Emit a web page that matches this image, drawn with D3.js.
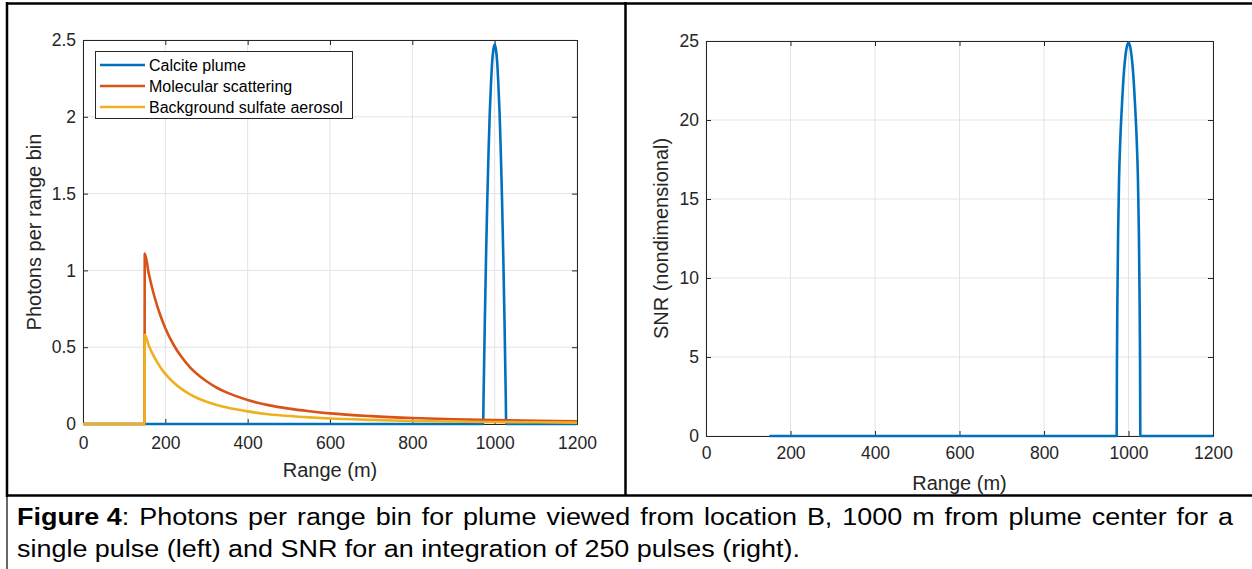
<!DOCTYPE html>
<html><head><meta charset="utf-8">
<script src="https://cdn.jsdelivr.net/npm/d3@7"></script>
<style>body{margin:0;background:#fff}</style></head>
<body>
<svg id="c" width="1252" height="569"></svg>
<script>
// ---------- data ----------
const rangeTicks = [0, 200, 400, 600, 800, 1000, 1200];
const photonTicks = [0, 0.5, 1, 1.5, 2, 2.5];
const snrTicks = [0, 5, 10, 15, 20, 25];
const seriesNames = ["Calcite plume", "Molecular scattering", "Background sulfate aerosol"];

const plumeRange   = [0, 150, 972, 973, 976, 979, 982, 985, 988, 991, 994, 997, 1000, 1003, 1006, 1009, 1012, 1015, 1018, 1021, 1024, 1027, 1028, 1200];
const plumePhotons = [0, 0, 0, 0.17, 0.655, 1.08, 1.45, 1.76, 2.02, 2.21, 2.36, 2.44, 2.47, 2.44, 2.36, 2.21, 2.02, 1.76, 1.45, 1.08, 0.655, 0.17, 0, 0];

const bgRange     = [0, 149.5, 150, 160, 170, 180, 190, 200, 220, 240, 260, 280, 300, 325, 350, 400, 450, 500, 550, 600, 700, 800, 900, 1000, 1100, 1200];
const molPhotons  = [0, 0, 1.11, 0.976, 0.864, 0.771, 0.692, 0.624, 0.516, 0.434, 0.369, 0.319, 0.278, 0.236, 0.204, 0.156, 0.123, 0.100, 0.083, 0.069, 0.051, 0.039, 0.031, 0.025, 0.021, 0.017];
const sulPhotons  = [0, 0, 0.58, 0.510, 0.452, 0.403, 0.362, 0.326, 0.270, 0.227, 0.193, 0.166, 0.145, 0.124, 0.107, 0.082, 0.064, 0.052, 0.043, 0.036, 0.027, 0.020, 0.016, 0.013, 0.011, 0.009];

const snrRange = [150, 972, 972.6, 973.7, 975.4, 977.6, 980.4, 984.6, 988.8, 994.4, 1000, 1005.6, 1011.2, 1015.4, 1019.6, 1022.4, 1024.6, 1026.3, 1027.4, 1028, 1200];
const snrValue = [0, 0, 4.5, 8.5, 12.8, 16.2, 18.6, 21.0, 22.9, 24.4, 24.9, 24.4, 22.9, 21.0, 18.6, 16.2, 12.8, 8.5, 4.5, 0, 0];

const captionBold = "Figure 4";
const captionLine1 = ": Photons per range bin for plume viewed from location B, 1000 m from plume center for a";
const captionLine2 = "single pulse (left) and SNR for an integration of 250 pulses (right).";

// ---------- styling ----------
const colors = ["#0072BD", "#D95319", "#EDB120"];
const axisColor = "#262626";
const gridColor = "#e3e3e3";
const font = "'Liberation Sans', Arial, sans-serif";

const svg = d3.select("#c");
svg.append("rect").attr("width", 1252).attr("height", 569).attr("fill", "#fff");

function panel(cfg) {
  const x = d3.scaleLinear().domain([0, 1200]).range([cfg.x0, cfg.x1]);
  const y = d3.scaleLinear().domain(cfg.yDomain).range([cfg.y1, cfg.y0]);
  const g = svg.append("g");
  g.selectAll(".gx").data(rangeTicks).enter().append("line")
    .attr("x1", d => x(d)).attr("x2", d => x(d)).attr("y1", cfg.y0).attr("y2", cfg.y1)
    .attr("stroke", gridColor).attr("stroke-width", 1);
  g.selectAll(".gy").data(cfg.yTicks).enter().append("line")
    .attr("y1", d => y(d)).attr("y2", d => y(d)).attr("x1", cfg.x0).attr("x2", cfg.x1)
    .attr("stroke", gridColor).attr("stroke-width", 1);
  const fmt = d => String(d);
  const ax = g.append("g").attr("transform", `translate(0,${cfg.y1})`)
    .call(d3.axisBottom(x).tickValues(rangeTicks).tickSize(-5).tickPadding(cfg.xPad).tickFormat(fmt));
  const axT = g.append("g").attr("transform", `translate(0,${cfg.y0})`)
    .call(d3.axisTop(x).tickValues(rangeTicks).tickSize(-5).tickFormat(""));
  const ay = g.append("g").attr("transform", `translate(${cfg.x0},0)`)
    .call(d3.axisLeft(y).tickValues(cfg.yTicks).tickSize(-5).tickPadding(7).tickFormat(fmt));
  const ayR = g.append("g").attr("transform", `translate(${cfg.x1},0)`)
    .call(d3.axisRight(y).tickValues(cfg.yTicks).tickSize(-5).tickFormat(""));
  [ax, axT, ay, ayR].forEach(a => {
    a.select(".domain").attr("stroke", axisColor).attr("stroke-width", 1);
    a.selectAll(".tick line").attr("stroke", axisColor);
    a.selectAll("text").attr("fill", axisColor).style("font-family", font).style("font-size", "17.5px");
  });
  const line = d3.line().x(d => x(d[0])).y(d => y(d[1])).curve(d3.curveMonotoneX);
  cfg.series.forEach(s => {
    g.append("path").datum(s.xs.map((v, i) => [v, s.ys[i]]))
      .attr("d", line).attr("fill", "none").attr("stroke", s.color)
      .attr("stroke-width", 2.6).attr("stroke-linejoin", "round");
  });
  g.append("text").attr("x", (cfg.x0 + cfg.x1) / 2).attr("y", cfg.xLabelY)
    .attr("text-anchor", "middle").attr("fill", axisColor)
    .style("font-family", font).style("font-size", "20px").text("Range (m)");
  g.append("text").attr("transform", `translate(${cfg.yLabelX},${(cfg.y0 + cfg.y1) / 2}) rotate(-90)`)
    .attr("text-anchor", "middle").attr("fill", axisColor)
    .style("font-family", font).style("font-size", "20px").text(cfg.yLabel);
  return {x, y, g};
}

const left = panel({
  x0: 83, x1: 577, y0: 40, y1: 424, yDomain: [0, 2.5], yTicks: photonTicks, xPad: 13,
  xLabelY: 477, yLabelX: 41, yLabel: "Photons per range bin",
  series: [
    {xs: plumeRange, ys: plumePhotons, color: colors[0]},
    {xs: bgRange, ys: molPhotons, color: colors[1]},
    {xs: bgRange, ys: sulPhotons, color: colors[2]}
  ]
});

const right = panel({
  x0: 706, x1: 1213, y0: 41, y1: 436, yDomain: [0, 25], yTicks: snrTicks, xPad: 11,
  xLabelY: 490, yLabelX: 668, yLabel: "SNR (nondimensional)",
  series: [{xs: snrRange, ys: snrValue, color: colors[0]}]
});

// legend
const lg = left.g.append("g");
lg.append("rect").attr("x", 95.5).attr("y", 51.5).attr("width", 257).attr("height", 67)
  .attr("fill", "#fff").attr("stroke", axisColor).attr("stroke-width", 1);
seriesNames.forEach((n, i) => {
  const yy = 65 + i * 21;
  lg.append("line").attr("x1", 100).attr("x2", 145).attr("y1", yy).attr("y2", yy)
    .attr("stroke", colors[i]).attr("stroke-width", 2.6);
  lg.append("text").attr("x", 149).attr("y", yy + 5.5).attr("fill", "#000")
    .style("font-family", font).style("font-size", "16px").text(n);
});

// frame lines
const frame = svg.append("g").attr("stroke", "#000");
frame.append("line").attr("x1", 6).attr("x2", 1252).attr("y1", 3.5).attr("y2", 3.5).attr("stroke-width", 2.5);
frame.append("line").attr("x1", 7).attr("x2", 7).attr("y1", 2).attr("y2", 497).attr("stroke-width", 2.5);
frame.append("line").attr("x1", 7).attr("x2", 7).attr("y1", 497).attr("y2", 569).attr("stroke-width", 1.2);
frame.append("line").attr("x1", 625.5).attr("x2", 625.5).attr("y1", 2).attr("y2", 496).attr("stroke-width", 2.5);
frame.append("line").attr("x1", 6).attr("x2", 1252).attr("y1", 495.5).attr("y2", 495.5).attr("stroke-width", 2.5);

// caption
const cap = svg.append("g").style("font-family", font).attr("fill", "#000");
const fs = "23px";
const l2 = cap.append("text").attr("x", 17).attr("y", 557).style("font-size", fs).text(captionLine2);
const nat2 = l2.node().getComputedTextLength();
const target2 = 783;
const k = target2 / nat2;
l2.attr("textLength", target2).attr("lengthAdjust", "spacingAndGlyphs");

const b = cap.append("text").attr("x", 17).attr("y", 525).style("font-size", fs).style("font-weight", "bold").text(captionBold);
const natB = b.node().getComputedTextLength();
b.attr("textLength", natB * k).attr("lengthAdjust", "spacingAndGlyphs");

const startL1 = 17 + natB * k;
const target1 = 1233 - startL1;
const l1 = cap.append("text").attr("x", startL1).attr("y", 525).style("font-size", fs).text(captionLine1);
const nat1 = l1.node().getComputedTextLength();
const nSpaces = (captionLine1.match(/ /g) || []).length;
const ws = (target1 / k - nat1) / nSpaces;
l1.style("word-spacing", ws + "px");
l1.attr("textLength", target1).attr("lengthAdjust", "spacingAndGlyphs");
</script>
</body></html>
